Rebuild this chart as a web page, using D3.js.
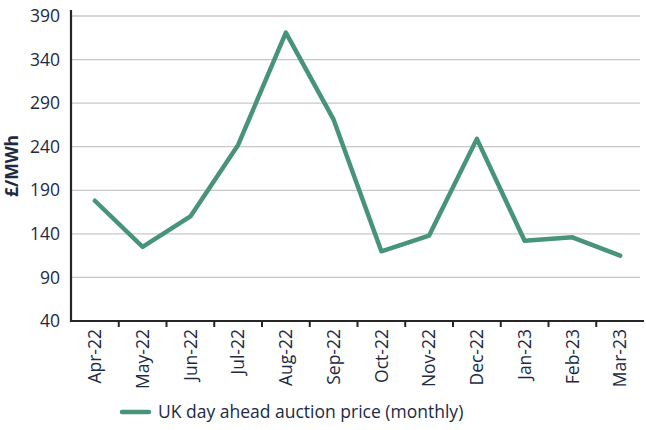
<!DOCTYPE html>
<html>
<head>
<meta charset="utf-8">
<script src="https://cdn.jsdelivr.net/npm/d3@7"></script>
<style>
  body { margin: 0; background: #fff; }
  text { font-family: "Open Sans", "Noto Sans", sans-serif; fill: #1c2a43; }
</style>
</head>
<body>
<div id="chart"></div>
<script>
// monthly categories and prices
const months = ["Apr-22", "May-22", "Jun-22", "Jul-22", "Aug-22", "Sep-22",
	"Oct-22", "Nov-22", "Dec-22", "Jan-23", "Feb-23", "Mar-23"];
const prices = [178, 125, 160, 242, 371, 271, 120, 138, 249, 132, 136, 115];
const yTicks = [40, 90, 140, 190, 240, 290, 340, 390];
const seriesName = "UK day ahead auction price (monthly)";

let width = 646, height = 430;
let margin = {top: 16, right: 2, bottom: 109, left: 71};
let fontSize = "17.5px";

let svg = d3.select("#chart").append("svg")
	.attr("width", width)
	.attr("height", height);

let x = d3.scaleBand()
	.domain(months)
	.range([margin.left, width - margin.right]);

let y = d3.scaleLinear()
	.domain([40, 390])
	.range([height - margin.bottom, margin.top]);

// gridlines
svg.append("g")
	.selectAll("line")
	.data(yTicks.slice(1))
	.join("line")
	.attr("x1", margin.left)
	.attr("x2", width - 6)
	.attr("y1", d => y(d))
	.attr("y2", d => y(d))
	.attr("stroke", "#c8c8c8")
	.attr("stroke-width", 1.3);

// y axis
let yAxis = svg.append("g")
	.attr("transform", "translate(" + margin.left + ",0)")
	.call(d3.axisLeft(y).tickValues(yTicks).tickSize(0).tickPadding(11));
yAxis.select(".domain").remove();
yAxis.selectAll("text").style("font-size", fontSize);
svg.append("line")
	.attr("x1", margin.left).attr("x2", margin.left)
	.attr("y1", 10).attr("y2", y(40) + 1)
	.attr("stroke", "#262626").attr("stroke-width", 2.2);

// x axis
let xAxis = svg.append("g")
	.attr("transform", "translate(0," + y(40) + ")")
	.call(d3.axisBottom(x).tickSize(0));
xAxis.select(".domain").remove();
xAxis.selectAll("text")
	.attr("transform", "rotate(-90)")
	.attr("text-anchor", "end")
	.attr("x", -8)
	.attr("y", 0)
	.attr("dy", "0.36em")
	.style("font-size", fontSize);
svg.append("line")
	.attr("x1", margin.left - 1).attr("x2", width - margin.right)
	.attr("y1", y(40)).attr("y2", y(40))
	.attr("stroke", "#262626").attr("stroke-width", 2.2);
// tick marks on category boundaries
svg.append("g")
	.selectAll("line")
	.data(months.slice(1))
	.join("line")
	.attr("x1", d => x(d)).attr("x2", d => x(d))
	.attr("y1", y(40)).attr("y2", y(40) + 6)
	.attr("stroke", "#262626").attr("stroke-width", 2);

// y axis title
svg.append("text")
	.attr("transform", "translate(18," + 166 + ") rotate(-90)")
	.attr("text-anchor", "middle")
	.style("font-size", fontSize)
	.style("font-weight", "bold")
	.text("£/MWh");

// the line
let line = d3.line()
	.x((d, i) => x(months[i]) + x.bandwidth() / 2)
	.y(d => y(d));

svg.append("path")
	.datum(prices)
	.attr("fill", "none")
	.attr("stroke", "#479478")
	.attr("stroke-width", 4.5)
	.attr("stroke-linejoin", "round")
	.attr("stroke-linecap", "round")
	.attr("d", line);

// legend
let legend = svg.append("g").attr("transform", "translate(122,412)");
legend.append("line")
	.attr("x1", 0).attr("x2", 27)
	.attr("stroke", "#479478")
	.attr("stroke-width", 4.5)
	.attr("stroke-linecap", "round");
legend.append("text")
	.attr("x", 36)
	.attr("dy", "0.35em")
	.style("font-size", fontSize)
	.text(seriesName);
</script>
</body>
</html>
